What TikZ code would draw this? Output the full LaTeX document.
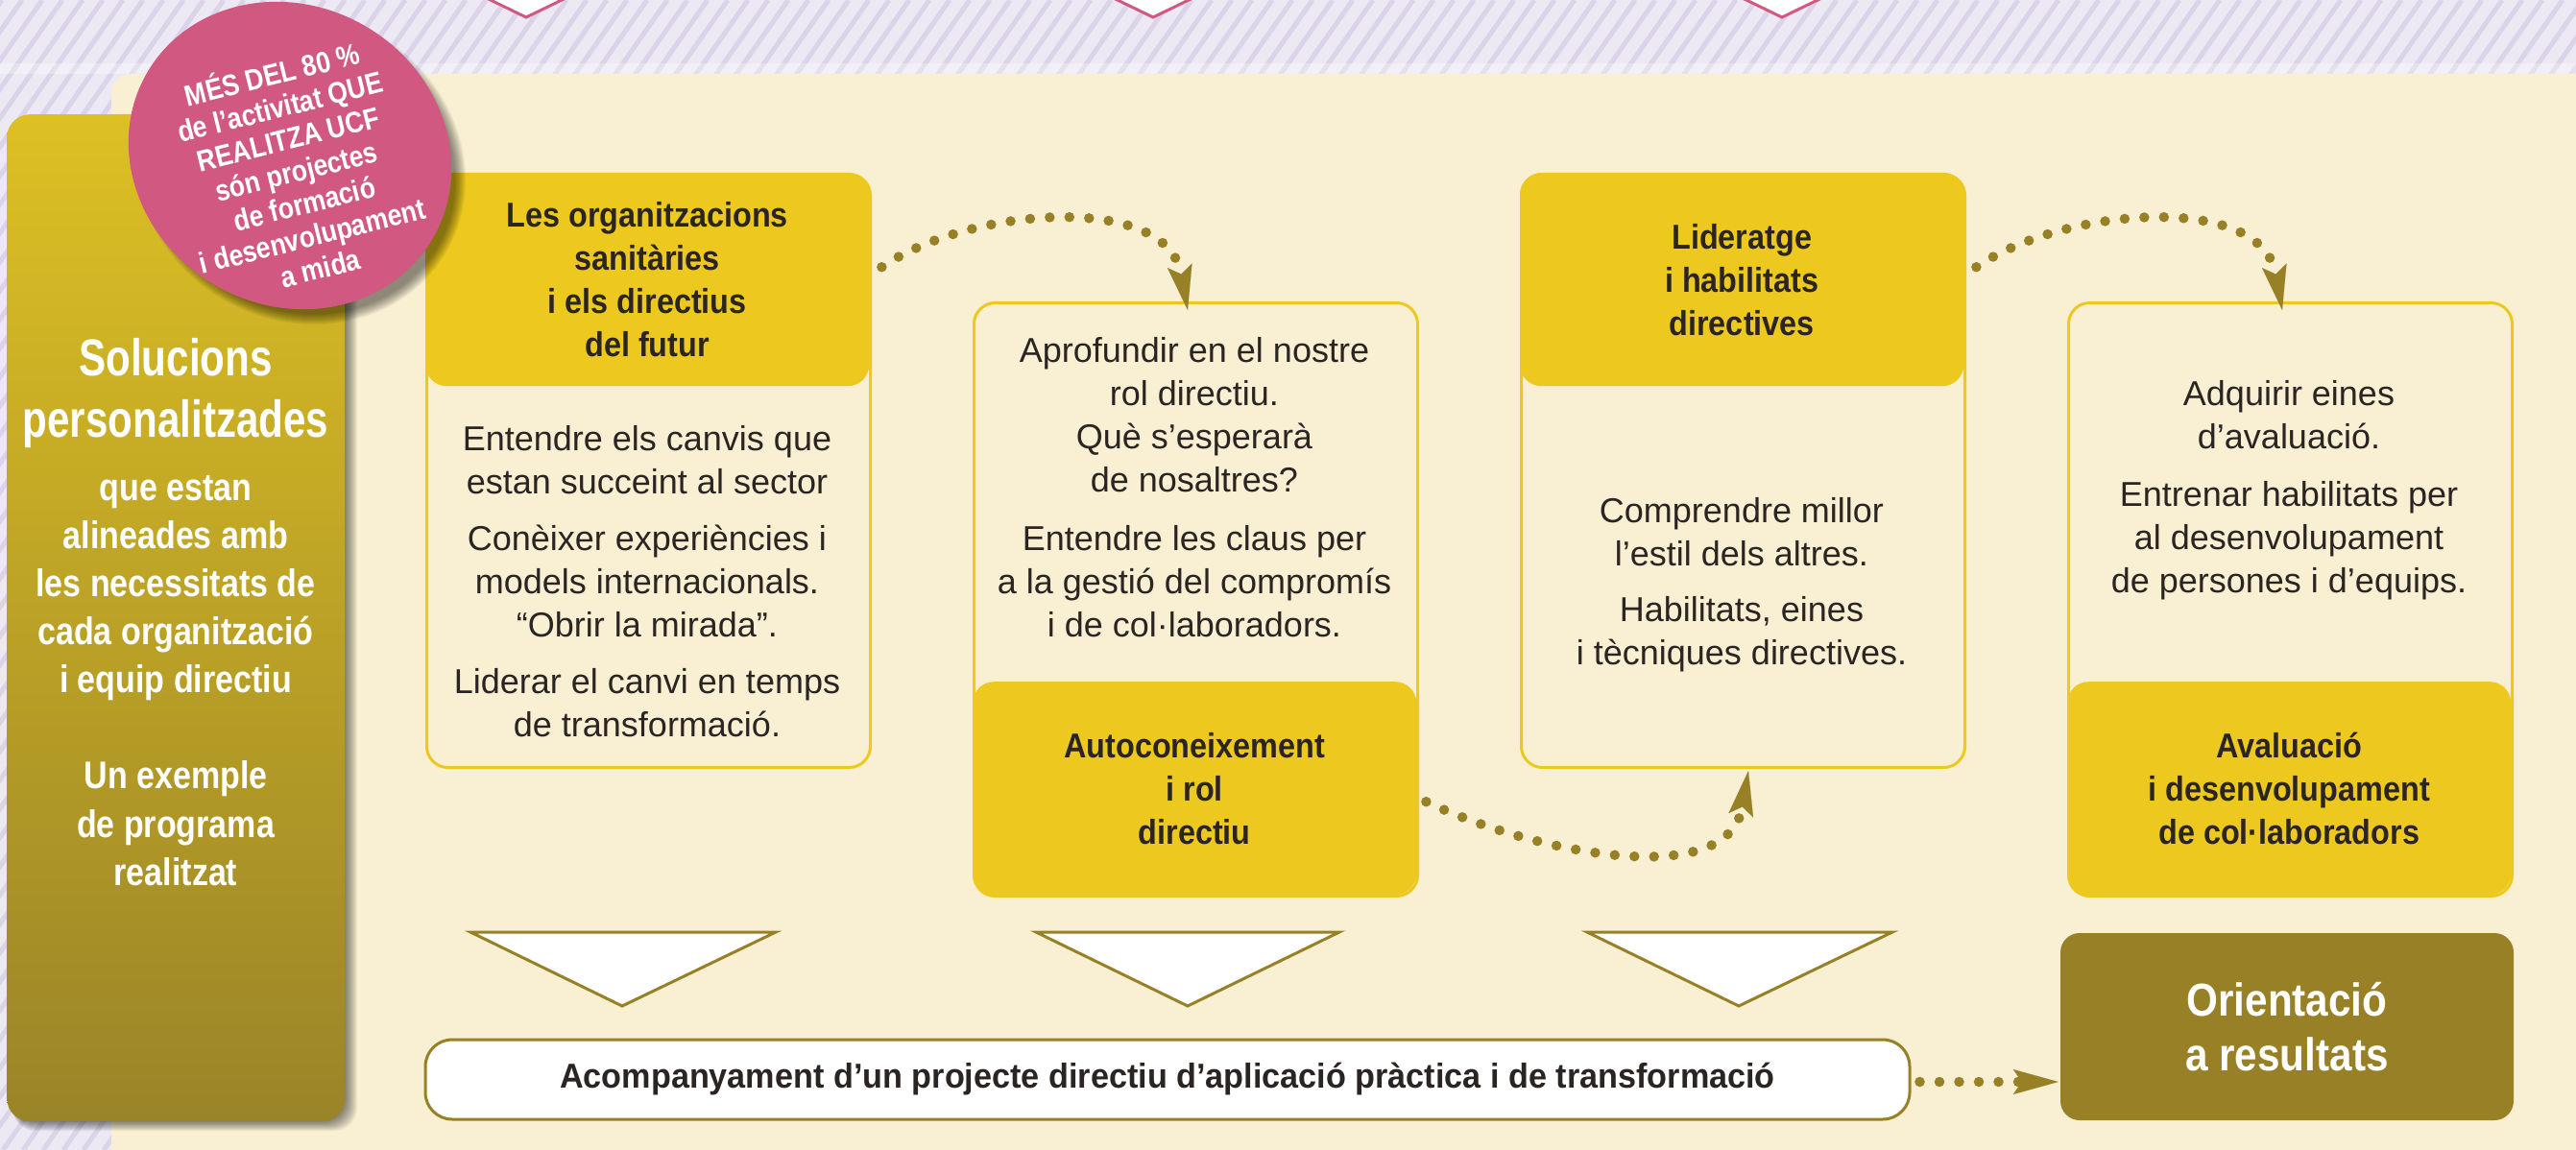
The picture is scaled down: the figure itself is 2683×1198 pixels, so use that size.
\documentclass[tikz,border=0pt]{standalone}
\usepackage{fontspec}
\setmainfont{Liberation Sans}
\newfontfamily\hdf[FakeStretch=0.9]{Liberation Sans}
\newfontfamily\sbf[FakeStretch=0.78]{Liberation Sans}
\newfontfamily\ssf[FakeStretch=0.85]{Liberation Sans}
\newfontfamily\pkf[FakeStretch=0.86]{Liberation Sans}
\newfontfamily\brf[FakeStretch=0.95]{Liberation Sans}
\newfontfamily\orf[FakeStretch=0.88]{Liberation Sans}
\usetikzlibrary{arrows.meta,shapes.geometric,calc}
\definecolor{lav}{HTML}{ECE9F5}
\definecolor{lavs}{HTML}{DBD4E8}
\definecolor{cream}{HTML}{F9F0D3}
\definecolor{ylw}{HTML}{EDC91F}
\definecolor{olv}{HTML}{978026}
\definecolor{pnk}{HTML}{D15880}
\definecolor{txt}{HTML}{2A2422}
\definecolor{sbtop}{HTML}{DDC024}
\definecolor{sbbot}{HTML}{9A8428}
\tikzset{
  card/.style={draw=ylw, line width=3pt, fill=cream, rounded corners=22, minimum width=462, minimum height=618, anchor=north west, inner sep=0},
  band/.style={fill=ylw, rounded corners=22, minimum width=462, minimum height=222, anchor=north west, inner sep=0, align=center, text=txt, font=\hdf\bfseries\fontsize{36}{45}\selectfont},
  bodytext/.style={align=center, text=txt, font=\fontsize{36}{45}\selectfont},
  sidetext/.style={align=center, text=white},
  dotarr/.style={color=olv, line width=10.5pt, line cap=round, dash pattern=on 0pt off 20.5pt, -{Stealth[length=47pt, width=26pt, inset=9pt, line width=0.1pt]}},
  downtri/.style={draw=olv, fill=white, line width=3pt},
  toptri/.style={draw=pnk, fill=white, line width=3pt},
}
\begin{document}
\begin{tikzpicture}[x=1pt,y=-1pt]
\useasboundingbox (0,0) rectangle (2683,1198);
\begin{scope}
\clip (0,0) rectangle (2683,1198);
% striped background
\fill[lav] (0,0) rectangle (2683,1198);
\foreach \x in {-900,-879,...,2700} \draw[lavs, line width=5pt] (\x,1198) -- (\x+839,0);
\fill[white, opacity=0.3] (0,66) rectangle (2683,77);
% top pink triangles
\foreach \t in {548,1201,1856} \draw[toptri] (\t-159,-59) -- (\t+159,-59) -- (\t,18) -- cycle;
% cream panel
\fill[cream, rounded corners=20] (116,77) rectangle (2720,1240);
% sidebar shadow
\foreach \i in {1,...,14} \fill[black, opacity=0.045, rounded corners=24] (13,125) rectangle (358+\i,1167+0.8*\i);
\node[top color=sbtop, bottom color=sbbot, rounded corners=24, minimum width=352, minimum height=1049, anchor=north west, inner sep=0] (side) at (7,119) {};
\node[sidetext, font=\sbf\bfseries\fontsize{54}{64}\selectfont] (s1) at (183,410) {Solucions\\personalitzades};
\node[sidetext, font=\ssf\bfseries\fontsize{40}{50}\selectfont] (s2) at (183,613) {que estan\\alineades amb\\les necessitats de\\cada organització\\i equip directiu};
\node[sidetext, font=\ssf\bfseries\fontsize{40}{50.5}\selectfont] (s3) at (183,858) {Un exemple\\de programa\\realitzat};
% card 1
\node[card] (c1) at (443,180) {};
\node[band] (h1) at (443,180) {Les organitzacions\\sanitàries\\i els directius\\del futur};
\node[bodytext] (t1) at (674,606) {Entendre els canvis que\\estan succeint al sector\\[14pt]Conèixer experiències i\\models internacionals.\\“Obrir la mirada”.\\[14pt]Liderar el canvi en temps\\de transformació.};
% card 2
\node[card] (c2) at (1013,314) {};
\node[band] (f2) at (1013,710) {Autoconeixement\\i rol\\directiu};
\node[bodytext] (t2) at (1244,508) {Aprofundir en el nostre\\rol directiu.\\Què s’esperarà\\de nosaltres?\\[16pt]Entendre les claus per\\a la gestió del compromís\\i de col·laboradors.};
% card 3
\node[card] (c3) at (1583,180) {};
\node[band] (h3) at (1583,180) {Lideratge\\i habilitats\\directives};
\node[bodytext] (t3) at (1814,609) {Comprendre millor\\l’estil dels altres.\\[13pt]Habilitats, eines\\i tècniques directives.};
% card 4
\node[card] (c4) at (2153,314) {};
\node[band] (f4) at (2153,710) {Avaluació\\i desenvolupament\\de col·laboradors};
\node[bodytext] (t4) at (2384,511) {Adquirir eines\\d’avaluació.\\[15pt]Entrenar habilitats per\\al desenvolupament\\de persones i d’equips.};
% down triangles
\foreach \t/\l/\r in {648/490/808,1237/1079/1395,1811/1653/1971} \draw[downtri] (\l,971) -- (\r,971) -- (\t,1048) -- cycle;
% bottom bar and result box
\node[draw=olv, line width=3pt, fill=white, rounded corners=28, minimum width=1546, minimum height=83, inner sep=0, text=txt, font=\brf\bfseries\fontsize{36}{45}\selectfont] (bar) at (1216,1124.5) {Acompanyament d’un projecte directiu d’aplicació pràctica i de transformació};
\node[fill=olv, rounded corners=20, minimum width=472, minimum height=195, inner sep=0, text=white, align=center, font=\orf\bfseries\fontsize{48}{57}\selectfont] (ori) at (2382,1069.5) {Orientació\\a resultats};
% dotted arrows
\coordinate (a1s) at ($(h1.east)+(13,-13)$);
\coordinate (a1e) at ($(c2.north west)+(224,9)$);
\coordinate (a2s) at ($(f2.east)+(10,14)$);
\coordinate (a2e) at ($(c3.south west)+(238,2)$);
\coordinate (a3s) at ($(h3.east)+(13,-13)$);
\coordinate (a3e) at ($(c4.north west)+(224,9)$);
\coordinate (a4s) at ($(bar.east)+(9,2.5)$);
\coordinate (a4e) at ($(ori.west)+(-2,57.5)$);
\draw[dotarr] (a1s) .. controls ($(a1s)+(92,-63)$) and ($(a1e)+(-22,-123)$) .. (a1e);
\draw[dotarr] (a2s) .. controls ($(a2s)+(116,55)$) and ($(a2e)+(-21,125)$) .. (a2e);
\draw[dotarr] (a3s) .. controls ($(a3s)+(92,-63)$) and ($(a3e)+(-22,-123)$) .. (a3e);
\draw[dotarr] (a4s) -- (a4e);
% pink badge
\foreach \i in {0,...,11} \fill[black, opacity=0.045, rotate around={-30:(313,174)}] (313,174) ellipse [x radius=165+\i, y radius=149+\i];
\node[ellipse, fill=pnk, minimum width=344, minimum height=312, inner sep=0, rotate=-30] (pink) at (302,162) {};
\node[text=white, rotate=14, align=center, font=\pkf\bfseries\fontsize{31}{34.6}\selectfont] (pinktext) at (308,176) {MÉS DEL 80 \%\\de l’activitat QUE\\REALITZA UCF\\són projectes\\de formació\\i desenvolupament\\a mida};
\end{scope}
\end{tikzpicture}
\end{document}
